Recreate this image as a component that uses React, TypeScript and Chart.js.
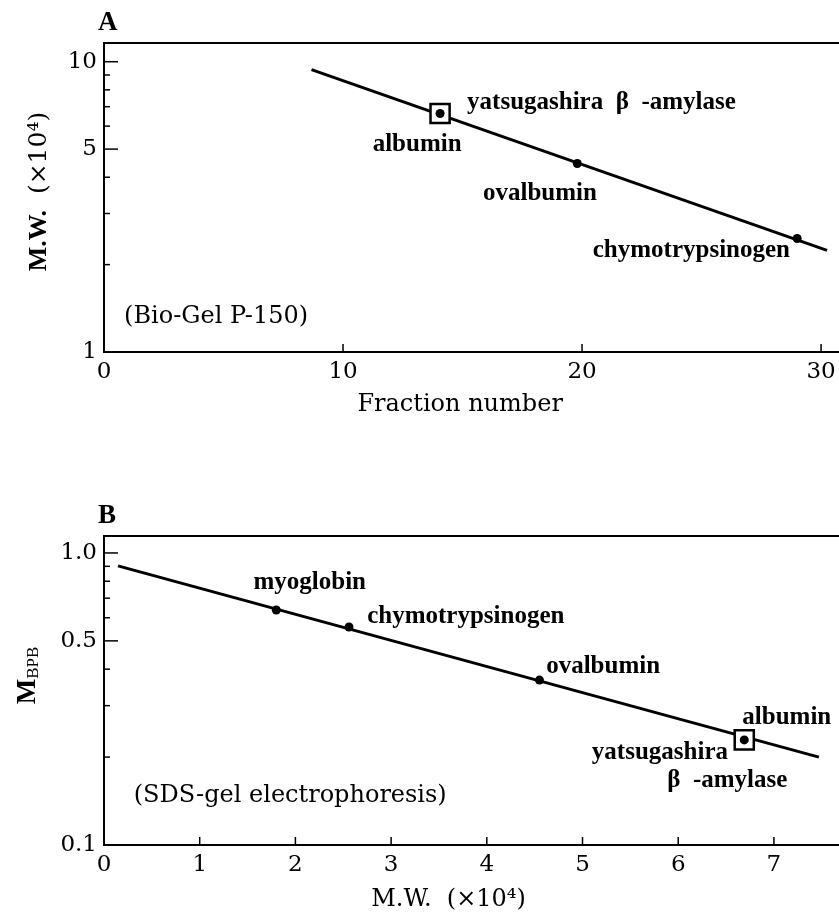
import React, { useEffect, useRef } from 'react';
import { Chart, registerables } from 'chart.js';

Chart.register(...registerables);

// ---------- Panel A : Bio-Gel P-150 ----------
const fitA_fraction = [8.68, 30.25];
const fitA_mw = [9.39, 2.24];
const stdA_names = ['albumin', 'ovalbumin', 'chymotrypsinogen'];
const stdA_fraction = [14.06, 19.8, 29.0];
const stdA_mw = [6.63, 4.46, 2.46];
const sampleA_fraction = [14.06];
const sampleA_mw = [6.63];
const xTicksA = [0, 10, 20, 30];
const yTicksA = [1, 2, 3, 4, 5, 6, 7, 8, 9, 10];
const yLabelsA = ['1', '', '', '', '5', '', '', '', '', '10'];

// ---------- Panel B : SDS-gel electrophoresis ----------
const fitB_mw = [0.146, 7.47];
const fitB_mbpb = [0.903, 0.2];
const stdB_names = ['myoglobin', 'chymotrypsinogen', 'ovalbumin', 'albumin'];
const stdB_mw = [1.8, 2.56, 4.55, 6.69];
const stdB_mbpb = [0.638, 0.558, 0.367, 0.229];
const sampleB_mw = [6.69];
const sampleB_mbpb = [0.229];
const xTicksB = [0, 1, 2, 3, 4, 5, 6, 7];
const yTicksB = [0.1, 0.2, 0.3, 0.4, 0.5, 0.6, 0.7, 0.8, 0.9, 1.0];
const yLabelsB = ['0.1', '', '', '', '0.5', '', '', '', '', '1.0'];

const BOLD = "bold 25px 'Liberation Serif'";
const REG = "24px 'DejaVu Serif'";
const TICKFONT = { family: 'DejaVu Serif', size: 23 };

type Ann = { text: string; x: number; y: number; align: CanvasTextAlign; font: string };
type Part = { text: string; font: string; dy: number };

const annA: Ann[] = [
  { text: 'yatsugashira  β  -amylase', x: 15.19, y: 7.23, align: 'left', font: BOLD },
  { text: stdA_names[0], x: 13.1, y: 5.19, align: 'center', font: BOLD },
  { text: stdA_names[1], x: 18.24, y: 3.52, align: 'center', font: BOLD },
  { text: stdA_names[2], x: 28.7, y: 2.24, align: 'right', font: BOLD },
  { text: '(Bio-Gel P-150)', x: 0.84, y: 1.32, align: 'left', font: REG },
];

const annB: Ann[] = [
  { text: stdB_names[0], x: 2.15, y: 0.789, align: 'center', font: BOLD },
  { text: stdB_names[1], x: 2.75, y: 0.604, align: 'left', font: BOLD },
  { text: stdB_names[2], x: 4.62, y: 0.407, align: 'left', font: BOLD },
  { text: stdB_names[3], x: 6.67, y: 0.274, align: 'left', font: BOLD },
  { text: 'yatsugashira', x: 6.52, y: 0.208, align: 'right', font: BOLD },
  { text: 'β  -amylase', x: 7.14, y: 0.166, align: 'right', font: BOLD },
  { text: '(SDS-gel electrophoresis)', x: 0.31, y: 0.148, align: 'left', font: REG },
];

type Spec = {
  letter: string;
  top: number;
  xAxisH: number;
  xMax: number;
  yMin: number;
  yMax: number;
  xTicks: number[];
  yTicks: number[];
  yLabels: string[];
  fitX: number[];
  fitY: number[];
  stdX: number[];
  stdY: number[];
  sampleX: number[];
  sampleY: number[];
  anns: Ann[];
  xTitle: string;
  xTitleAt: number;
  xTitleDy: number;
  yTitle: Part[];
  yTitleX: number;
  yTitleDy: number;
  yTitleBase: number;
};

function makeChart(canvas: HTMLCanvasElement, s: Spec) {
  const decor = {
    id: 'decor' + s.letter,
    afterDatasetsDraw(chart: any) {
      const { ctx, chartArea: a, scales } = chart;
      const xs = scales.x;
      const ys = scales.y;
      ctx.save();
      ctx.strokeStyle = '#000';
      ctx.lineWidth = 2;
      ctx.beginPath();
      ctx.moveTo(a.left - 1, a.top);
      ctx.lineTo(a.right, a.top);
      ctx.stroke();
      ctx.lineWidth = 1.5;
      ys.ticks.forEach((t: any, i: number) => {
        const py = ys.getPixelForValue(t.value);
        if (Math.abs(py - a.bottom) < 2) return;
        const len = s.yLabels[i] ? 14 : 6;
        ctx.beginPath();
        ctx.moveTo(a.left, py);
        ctx.lineTo(a.left + len, py);
        ctx.stroke();
      });
      xs.ticks.forEach((t: any) => {
        const px = xs.getPixelForValue(t.value);
        if (Math.abs(px - a.left) < 2) return;
        ctx.beginPath();
        ctx.moveTo(px, a.bottom);
        ctx.lineTo(px, a.bottom - 8);
        ctx.stroke();
      });
      ctx.restore();
    },
    afterDraw(chart: any) {
      const { ctx, chartArea: a, scales } = chart;
      const xs = scales.x;
      const ys = scales.y;
      ctx.save();
      ctx.fillStyle = '#000';
      ctx.textBaseline = 'middle';
      s.anns.forEach((n) => {
        ctx.font = n.font;
        ctx.textAlign = n.align;
        ctx.fillText(n.text, xs.getPixelForValue(n.x), ys.getPixelForValue(n.y));
      });
      // panel letter
      ctx.font = "bold 27px 'Liberation Serif'";
      ctx.textAlign = 'left';
      ctx.fillText(s.letter, 98, a.top - 20);
      // x title
      ctx.font = REG;
      ctx.textAlign = 'center';
      ctx.fillText(s.xTitle, xs.getPixelForValue(s.xTitleAt), a.bottom + s.xTitleDy);
      // y title (rotated)
      ctx.translate(s.yTitleX, (a.top + a.bottom) / 2 + s.yTitleDy);
      ctx.rotate(-Math.PI / 2);
      ctx.textAlign = 'left';
      ctx.textBaseline = 'alphabetic';
      let total = 0;
      s.yTitle.forEach((p) => {
        ctx.font = p.font;
        total += ctx.measureText(p.text).width;
      });
      let u = -total / 2;
      s.yTitle.forEach((p) => {
        ctx.font = p.font;
        ctx.fillText(p.text, u, s.yTitleBase + p.dy);
        u += ctx.measureText(p.text).width;
      });
      ctx.restore();
    },
  };

  const pts = (xs: number[], ys: number[]) => xs.map((x, i) => ({ x, y: ys[i] }));

  return new Chart(canvas, {
    type: 'scatter',
    data: {
      datasets: [
        {
          label: 'fit',
          data: pts(s.fitX, s.fitY),
          showLine: true,
          borderColor: '#000',
          borderWidth: 3,
          pointRadius: 0,
          order: 3,
        },
        {
          label: 'yatsugashira β-amylase',
          data: pts(s.sampleX, s.sampleY),
          pointStyle: 'rect',
          pointRadius: 13.5,
          backgroundColor: '#fff',
          borderColor: '#000',
          borderWidth: 2.5,
          order: 2,
        },
        {
          label: 'standards',
          data: pts(s.stdX, s.stdY),
          pointRadius: 4.5,
          backgroundColor: '#000',
          borderColor: '#000',
          borderWidth: 0,
          order: 1,
        },
      ],
    },
    options: {
      responsive: false,
      animation: false,
      events: [],
      layout: { autoPadding: false, padding: { top: s.top, left: 0, right: 0, bottom: 0 } },
      plugins: { legend: { display: false }, tooltip: { enabled: false } },
      scales: {
        x: {
          type: 'linear',
          min: 0,
          max: s.xMax,
          grid: { display: false, drawTicks: false },
          border: { display: true, color: '#000', width: 2 },
          ticks: {
            autoSkip: false,
            maxRotation: 0,
            padding: 6,
            color: '#000',
            font: TICKFONT,
            callback: (v: any) => String(v),
          },
          afterBuildTicks: (sc: any) => {
            sc.ticks = s.xTicks.map((v) => ({ value: v }));
          },
          afterFit: (sc: any) => {
            sc.height = s.xAxisH;
            sc.paddingLeft = 0;
            sc.paddingRight = 0;
          },
        },
        y: {
          type: 'logarithmic',
          min: s.yMin,
          max: s.yMax,
          grid: { display: false, drawTicks: false },
          border: { display: true, color: '#000', width: 2 },
          ticks: {
            autoSkip: false,
            padding: 7,
            color: '#000',
            font: TICKFONT,
            callback: (_v: any, i: number) => s.yLabels[i],
          },
          afterBuildTicks: (sc: any) => {
            sc.ticks = s.yTicks.map((v) => ({ value: v }));
          },
          afterFit: (sc: any) => {
            sc.width = 104;
            sc.paddingTop = 0;
            sc.paddingBottom = 0;
          },
        },
      },
    },
    plugins: [decor],
  } as any);
}

const specA: Spec = {
  letter: 'A',
  top: 43,
  xAxisH: 108,
  xMax: 30.75,
  yMin: 1,
  yMax: 11.6,
  xTicks: xTicksA,
  yTicks: yTicksA,
  yLabels: yLabelsA,
  fitX: fitA_fraction,
  fitY: fitA_mw,
  stdX: stdA_fraction,
  stdY: stdA_mw,
  sampleX: sampleA_fraction,
  sampleY: sampleA_mw,
  anns: annA,
  xTitle: 'Fraction number',
  xTitleAt: 14.9,
  xTitleDy: 53,
  yTitle: [
    { text: 'M.W.', font: "bold 26px 'Liberation Serif'", dy: 0 },
    { text: '  (×10⁴)', font: "25px 'DejaVu Serif'", dy: 0 },
  ],
  yTitleX: 37,
  yTitleDy: -6,
  yTitleBase: 9,
};

const specB: Spec = {
  letter: 'B',
  top: 76,
  xAxisH: 75,
  xMax: 7.68,
  yMin: 0.1,
  yMax: 1.143,
  xTicks: xTicksB,
  yTicks: yTicksB,
  yLabels: yLabelsB,
  fitX: fitB_mw,
  fitY: fitB_mbpb,
  stdX: stdB_mw,
  stdY: stdB_mbpb,
  sampleX: sampleB_mw,
  sampleY: sampleB_mbpb,
  anns: annB,
  xTitle: 'M.W.  (×10⁴)',
  xTitleAt: 3.6,
  xTitleDy: 55,
  yTitle: [
    { text: 'M', font: "bold 27px 'Liberation Serif'", dy: 0 },
    { text: 'BPB', font: "17px 'Liberation Serif'", dy: 3 },
  ],
  yTitleX: 25,
  yTitleDy: -15,
  yTitleBase: 10,
};

function Panel({ spec, top }: { spec: Spec; top: number }) {
  const ref = useRef<HTMLCanvasElement | null>(null);
  useEffect(() => {
    if (!ref.current) return;
    const c = makeChart(ref.current, spec);
    return () => c.destroy();
  }, [spec]);
  return (
    <canvas
      ref={ref}
      width={839}
      height={460}
      style={{ position: 'absolute', left: 0, top, width: 839, height: 460, display: 'block' }}
    />
  );
}

export default function App() {
  return (
    <div style={{ position: 'absolute', left: 0, top: 0, width: 839, height: 920, background: '#fff' }}>
      <Panel spec={specA} top={0} />
      <Panel spec={specB} top={460} />
    </div>
  );
}
